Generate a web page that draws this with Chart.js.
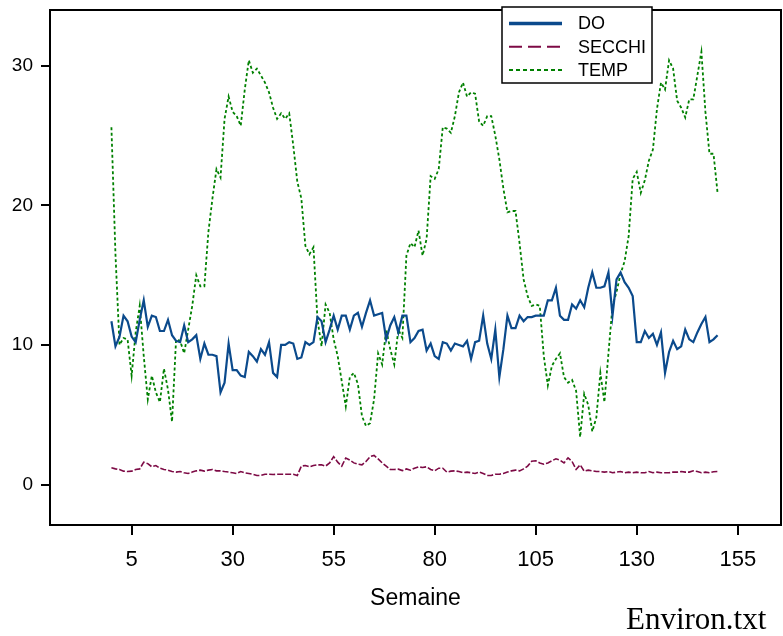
<!DOCTYPE html>
<html>
<head>
<meta charset="utf-8">
<script src="https://cdn.jsdelivr.net/npm/chart.js@4"></script>
<style>
  body { margin: 0; background: #fff; }
  #wrap { position: relative; width: 783px; height: 636px; }
  #src { position: absolute; left: 626px; top: 603px; font: 31px/31px "Liberation Serif", "Times New Roman", serif; color: #000; }
</style>
</head>
<body>
<div id="wrap">
  <canvas id="chart" width="783" height="636"></canvas>
  <div id="src">Environ.txt</div>
</div>
<script>
// weekly values (151 weeks)
const weeks = Array.from({ length: 151 }, (_, i) => i);

const doValues = [
    11.7, 9.9, 10.6, 12.1, 11.7, 10.6, 10.2, 11.8, 13.2, 11.3,
    12.1, 12.0, 11.0, 11.0, 11.8, 10.7, 10.3, 10.2, 11.4, 10.2,
    10.4, 10.7, 9.0, 10.1, 9.3, 9.3, 9.2, 6.6, 7.3, 10.1,
    8.2, 8.2, 7.8, 7.7, 9.5, 9.2, 8.8, 9.7, 9.3, 10.2,
    8.0, 7.7, 10.0, 10.0, 10.2, 10.1, 9.0, 9.1, 10.2, 10.0,
    10.2, 12.0, 11.7, 10.2, 11.1, 12.1, 11.1, 12.1, 12.1, 11.1,
    12.1, 12.3, 11.3, 12.3, 13.2, 12.1, 12.2, 12.3, 10.4, 11.4,
    12.0, 10.9, 12.1, 12.1, 10.2, 10.5, 11.0, 11.1, 9.6, 10.1,
    9.2, 9.0, 10.2, 10.1, 9.6, 10.1, 10.0, 9.9, 10.3, 9.0,
    10.2, 10.3, 12.1, 10.1, 9.0, 11.1, 7.7, 9.7, 12.1, 11.2,
    11.2, 12.1, 11.7, 12.0, 12.0, 12.1, 12.1, 12.1, 13.2, 13.2,
    14.1, 12.1, 11.8, 11.8, 12.9, 12.6, 13.2, 12.7, 14.1, 15.2,
    14.1, 14.1, 14.2, 15.2, 12.1, 14.7, 15.2, 14.5, 14.1, 13.5,
    10.2, 10.2, 11.0, 10.5, 10.8, 10.0, 10.9, 8.0, 9.5, 10.3,
    9.7, 9.9, 11.1, 10.4, 10.2, 10.9, 11.5, 12.0, 10.2, 10.4,
    10.7
];

const secchiValues = [
    1.2, 1.12, 1.08, 0.96, 0.93, 0.96, 1.08, 1.12, 1.6, 1.5,
    1.27, 1.36, 1.17, 1.08, 1.03, 0.93, 0.89, 0.93, 0.84, 0.79,
    0.89, 0.98, 1.03, 0.96, 1.03, 1.08, 0.98, 0.98, 0.93, 0.89,
    0.84, 0.79, 0.93, 0.84, 0.79, 0.74, 0.65, 0.65, 0.74, 0.74,
    0.72, 0.74, 0.74, 0.74, 0.74, 0.74, 0.65, 1.32, 1.36, 1.27,
    1.36, 1.41, 1.41, 1.32, 1.55, 2.0, 1.6, 1.32, 1.9, 1.75,
    1.55, 1.46, 1.41, 1.65, 2.0, 2.08, 1.84, 1.55, 1.32, 1.08,
    1.08, 1.1, 1.0, 1.12, 1.03, 1.17, 1.27, 1.22, 1.27, 1.08,
    0.98, 1.17, 1.17, 0.89, 0.96, 0.98, 0.93, 0.84, 0.89, 0.84,
    0.79, 0.89, 0.79, 0.65, 0.65, 0.74, 0.74, 0.79, 0.89, 0.98,
    1.03, 0.98, 1.12, 1.32, 1.67, 1.7, 1.55, 1.46, 1.55, 1.7,
    1.84, 1.75, 1.55, 1.91, 1.65, 1.08, 1.41, 0.96, 1.03, 0.98,
    0.93, 0.93, 0.89, 0.93, 0.84, 0.89, 0.93, 0.84, 0.89, 0.84,
    0.89, 0.84, 0.84, 0.93, 0.84, 0.89, 0.84, 0.84, 0.84, 0.89,
    0.89, 0.93, 0.89, 0.89, 0.98, 0.93, 0.84, 0.89, 0.84, 0.91,
    0.93
];

const tempValues = [
    25.6, 16.5, 10.0, 10.5, 10.4, 7.8, 10.9, 12.8, 9.2, 6.1,
    7.8, 6.6, 5.9, 8.3, 6.8, 4.5, 10.4, 10.3, 9.4, 11.1,
    12.8, 15.0, 14.2, 14.2, 18.1, 20.5, 22.6, 22.0, 26.2, 27.8,
    26.7, 26.4, 25.7, 28.3, 30.4, 29.5, 29.8, 29.3, 28.8, 28.1,
    27.0, 26.2, 26.6, 26.2, 26.6, 24.3, 21.7, 20.5, 17.1, 16.5,
    17.0, 11.8, 9.9, 12.9, 12.3, 10.4, 9.2, 7.4, 5.6, 7.7,
    8.0, 7.2, 4.9, 4.2, 4.4, 6.1, 9.4, 8.6, 11.1, 9.7,
    8.6, 11.1, 10.5, 16.4, 17.3, 17.0, 18.2, 16.4, 17.6, 22.1,
    21.9, 22.6, 25.6, 25.5, 25.2, 26.4, 28.1, 28.8, 27.8, 28.1,
    28.0, 26.0, 25.7, 26.4, 26.4, 25.0, 23.3, 21.2, 19.5, 19.6,
    19.6, 17.3, 14.7, 13.5, 12.8, 12.9, 12.8, 9.2, 7.1, 8.5,
    9.0, 9.4, 7.7, 7.3, 7.5, 6.7, 3.4, 6.5, 5.7, 3.8,
    4.8, 8.0, 5.9, 9.4, 12.8, 13.8, 15.1, 16.0, 17.8, 21.9,
    22.4, 20.9, 21.8, 23.2, 24.0, 26.9, 28.8, 28.3, 30.4, 29.8,
    27.5, 27.0, 26.3, 27.6, 27.6, 29.3, 31.0, 26.7, 23.7, 23.7,
    20.9
];

const seriesNames = ['DO', 'SECCHI', 'TEMP'];
const xTicks = [5, 30, 55, 80, 105, 130, 155];
const yTicks = [0, 10, 20, 30];

const fontFamily = '"Liberation Sans", Arial, Helvetica, sans-serif';

function toPoints(values) {
    return values.map((v, i) => ({ x: weeks[i], y: v }));
}

// top and right sides of the box (left/bottom come from the axis borders)
const framePlugin = {
    id: 'frame',
    beforeDatasetsDraw(chart) {
        const { ctx, chartArea: a } = chart;
        ctx.save();
        ctx.strokeStyle = '#000';
        ctx.lineWidth = 2;
        ctx.beginPath();
        ctx.moveTo(a.left - 1, a.top);
        ctx.lineTo(a.right, a.top);
        ctx.lineTo(a.right, a.bottom + 1);
        ctx.stroke();
        ctx.restore();
    }
};

// boxed legend sitting on the top edge of the plot
const boxLegendPlugin = {
    id: 'boxLegend',
    afterDraw(chart) {
        const { ctx, chartArea: a } = chart;
        const left = a.left + 452;
        const top = a.top - 3;
        const w = 150, h = 76;
        ctx.save();
        ctx.fillStyle = '#fff';
        ctx.fillRect(left, top, w, h);
        ctx.strokeStyle = '#000';
        ctx.lineWidth = 1.5;
        ctx.strokeRect(left, top, w, h);
        chart.data.datasets.forEach((ds, i) => {
            const y = top + 16.5 + i * 23.3;
            ctx.beginPath();
            ctx.setLineDash(ds.legendDash);
            ctx.lineWidth = ds.legendWidth;
            ctx.strokeStyle = ds.borderColor;
            ctx.moveTo(left + 7, y);
            ctx.lineTo(left + 60, y);
            ctx.stroke();
            ctx.setLineDash([]);
            ctx.fillStyle = '#000';
            ctx.font = '18px ' + fontFamily;
            ctx.textBaseline = 'middle';
            ctx.textAlign = 'left';
            ctx.fillText(ds.label, left + 76, y + 1);
        });
        ctx.restore();
    }
};

new Chart(document.getElementById('chart'), {
    type: 'line',
    data: {
        datasets: [{
            label: seriesNames[0],
            data: toPoints(doValues),
            borderColor: '#0b4a8c',
            borderWidth: 2.2,
            legendWidth: 3.5,
            legendDash: []
        }, {
            label: seriesNames[1],
            data: toPoints(secchiValues),
            borderColor: '#7d0a45',
            borderWidth: 1.6,
            borderDash: [6, 2],
            legendWidth: 2,
            legendDash: [13, 6]
        }, {
            label: seriesNames[2],
            data: toPoints(tempValues),
            borderColor: '#008000',
            borderWidth: 1.8,
            borderDash: [3, 2.5],
            legendWidth: 2,
            legendDash: [4, 3]
        }]
    },
    options: {
        responsive: false,
        animation: false,
        events: [],
        elements: {
            point: { radius: 0 },
            line: { tension: 0, fill: false }
        },
        layout: {
            padding: { top: 10, right: 2, left: 0, bottom: 0 }
        },
        plugins: {
            legend: { display: false },
            tooltip: { enabled: false }
        },
        scales: {
            x: {
                type: 'linear',
                min: -15.2,
                max: 165.7,
                afterBuildTicks: s => { s.ticks = xTicks.map(v => ({ value: v })); },
                afterFit: s => { s.height = 111; },
                grid: { drawOnChartArea: false, color: '#000', lineWidth: 2, tickLength: 10 },
                border: { display: true, color: '#000', width: 2 },
                ticks: {
                    color: '#000',
                    font: { size: 22, family: fontFamily },
                    padding: 12,
                    maxRotation: 0,
                    autoSkip: false
                },
                title: {
                    display: true,
                    text: 'Semaine',
                    color: '#000',
                    font: { size: 23, family: fontFamily },
                    padding: { top: 0, bottom: 24 }
                }
            },
            y: {
                type: 'linear',
                min: -2.9,
                max: 34,
                afterBuildTicks: s => { s.ticks = yTicks.map(v => ({ value: v })); },
                afterFit: s => {
                    s.width = 50;
                    s.paddingTop = 0;
                    s.paddingBottom = 0;
                },
                grid: { drawOnChartArea: false, color: '#000', lineWidth: 2, tickLength: 9 },
                border: { display: true, color: '#000', width: 2 },
                ticks: {
                    color: '#000',
                    font: { size: 19, family: fontFamily },
                    padding: 8
                }
            }
        }
    },
    plugins: [framePlugin, boxLegendPlugin]
});
</script>
</body>
</html>
